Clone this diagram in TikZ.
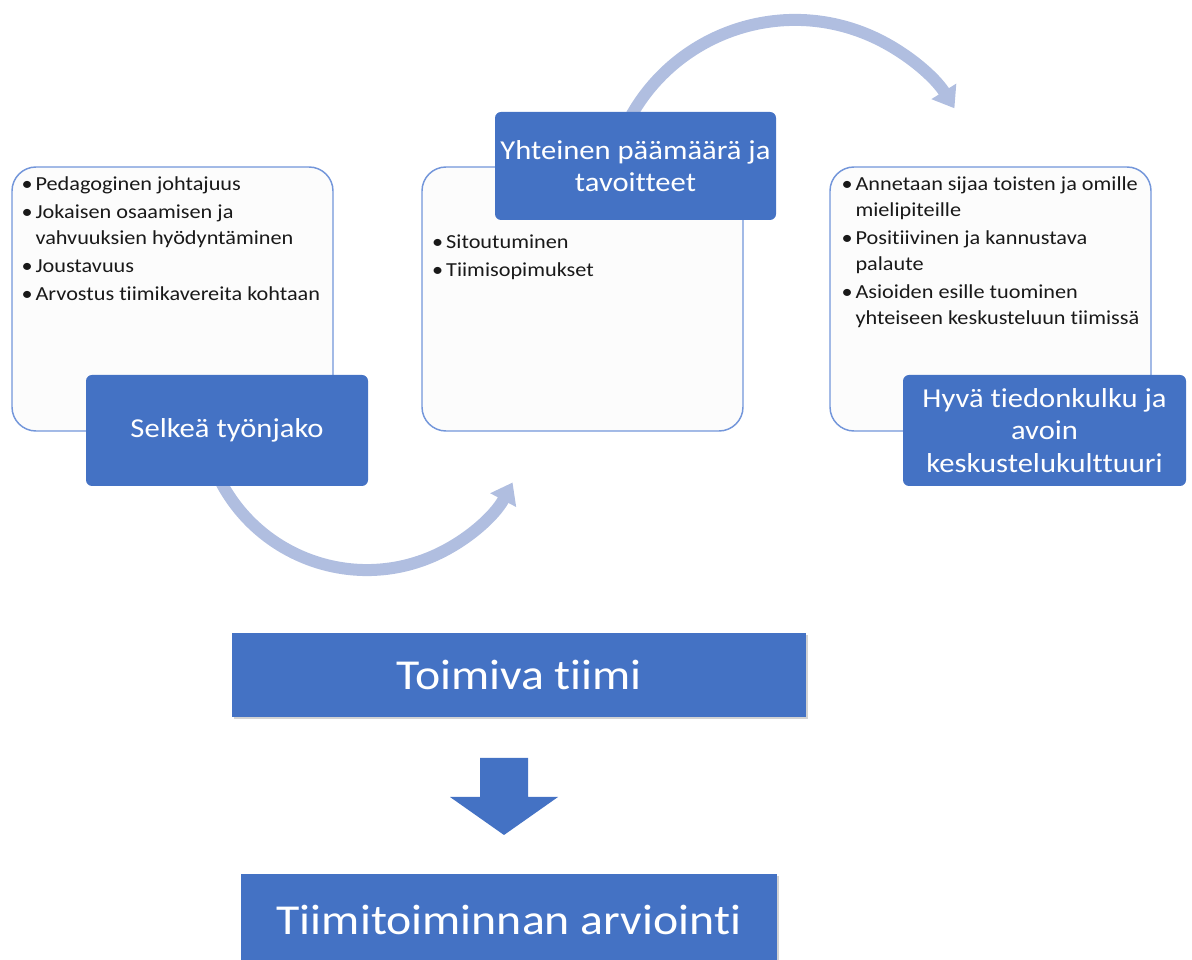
\documentclass[tikz,border=0pt]{standalone}
\usepackage{fontspec}
\newfontfamily\diafont[FakeStretch=1.12, Ligatures=NoCommon]{Carlito}
\usetikzlibrary{arrows.meta, positioning, shadows, calc}
\definecolor{tBlue}{HTML}{4472C4}
\definecolor{tLine}{HTML}{7396DA}
\definecolor{tArc}{HTML}{B0BEE0}
\definecolor{tPaper}{HTML}{FCFCFC}

\tikzset{
  listbox/.style={draw=tLine, line width=1.1pt, fill=tPaper, rounded corners=18pt,
    minimum width=240.75pt, minimum height=198pt},
  headbox/.style={fill=tBlue, text=white, rounded corners=4.5pt, minimum width=211.5pt,
    minimum height=83.25pt, align=center, inner sep=2pt,
    font=\diafont\fontsize{20.5}{24.5}\selectfont},
  barbox/.style={fill=tBlue, text=white, font=\diafont\fontsize{32}{38}\selectfont,
    drop shadow={shadow xshift=1.2pt, shadow yshift=-1.2pt, opacity=.35}},
  bullets/.style={anchor=north west, inner sep=0pt, align=left, text=black!90,
    font=\diafont\fontsize{14.9}{19.5}\selectfont},
  looparrow/.style={tArc, line width=9pt, -{Triangle[length=15pt, width=21pt]}}
}
\newcommand{\bl}{\makebox[10.5pt][l]{\textbullet}}
\newcommand{\ind}{\hspace*{10.5pt}}

\begin{document}
\begin{tikzpicture}[x=0.75pt, y=0.75pt]
    \useasboundingbox (0,0) rectangle (1192,960);
    \clip (0,0) rectangle (1192,960);

    % curved arrows (behind the boxes)
    \coordinate (lowStart) at (215,490.5);
    \draw[looparrow] (lowStart) arc[start angle=203, end angle=332, radius=165];
    \coordinate (highStart) at (624.6,831.5);
    \draw[looparrow] (highStart) arc[start angle=155, end angle=32, radius=188];

    % list boxes
    \node[listbox] (leftList) at (172.5,661) {};
    \node[listbox] (midList) at (582.5,661) {};
    \node[listbox] (rightList) at (990.5,661) {};

    \node[bullets] (leftItems) at ($(leftList.north west)+(7.5pt,-7.5pt)$)
      {\bl Pedagoginen johtajuus\\[1.5pt]
       \bl Jokaisen osaamisen ja\\
       \ind vahvuuksien hyödyntäminen\\[1.5pt]
       \bl Joustavuus\\[1.5pt]
       \bl Arvostus tiimikavereita kohtaan};
    \node[bullets] (midItems) at ($(midList.north west)+(8pt,-51.5pt)$)
      {\bl Sitoutuminen\\[1.5pt]
       \bl Tiimisopimukset};
    \node[bullets] (rightItems) at ($(rightList.north west)+(9pt,-7.5pt)$)
      {\bl Annetaan sijaa toisten ja omille\\
       \ind mielipiteille\\[1.5pt]
       \bl Positiivinen ja kannustava\\
       \ind palaute\\[1.5pt]
       \bl Asioiden esille tuominen\\
       \ind yhteiseen keskusteluun tiimissä};

    % headings
    \node[headbox] (selkea) at (227,529.5) {Selkeä työnjako};
    \node[headbox, minimum width=210.75pt, minimum height=81pt] (yhteinen) at (635.5,794)
      {Yhteinen päämäärä ja\\tavoitteet};
    \node[headbox, minimum width=212.25pt] (hyva) at (1044.5,529.5)
      {Hyvä tiedonkulku ja\\avoin\\keskustelukulttuuri};

    % result
    \node[barbox, minimum width=430.5pt, minimum height=63pt] (toimiva) at (519,285) {Toimiva tiimi};
    \fill[tBlue] (480,202) -- (528,202) -- (528,163) -- (558,163) -- (504,125)
      -- (450,163) -- (480,163) -- cycle;
    \node[barbox, minimum width=402pt, minimum height=69pt] (arviointi) at (509,40)
      {Tiimitoiminnan arviointi};
\end{tikzpicture}
\end{document}
